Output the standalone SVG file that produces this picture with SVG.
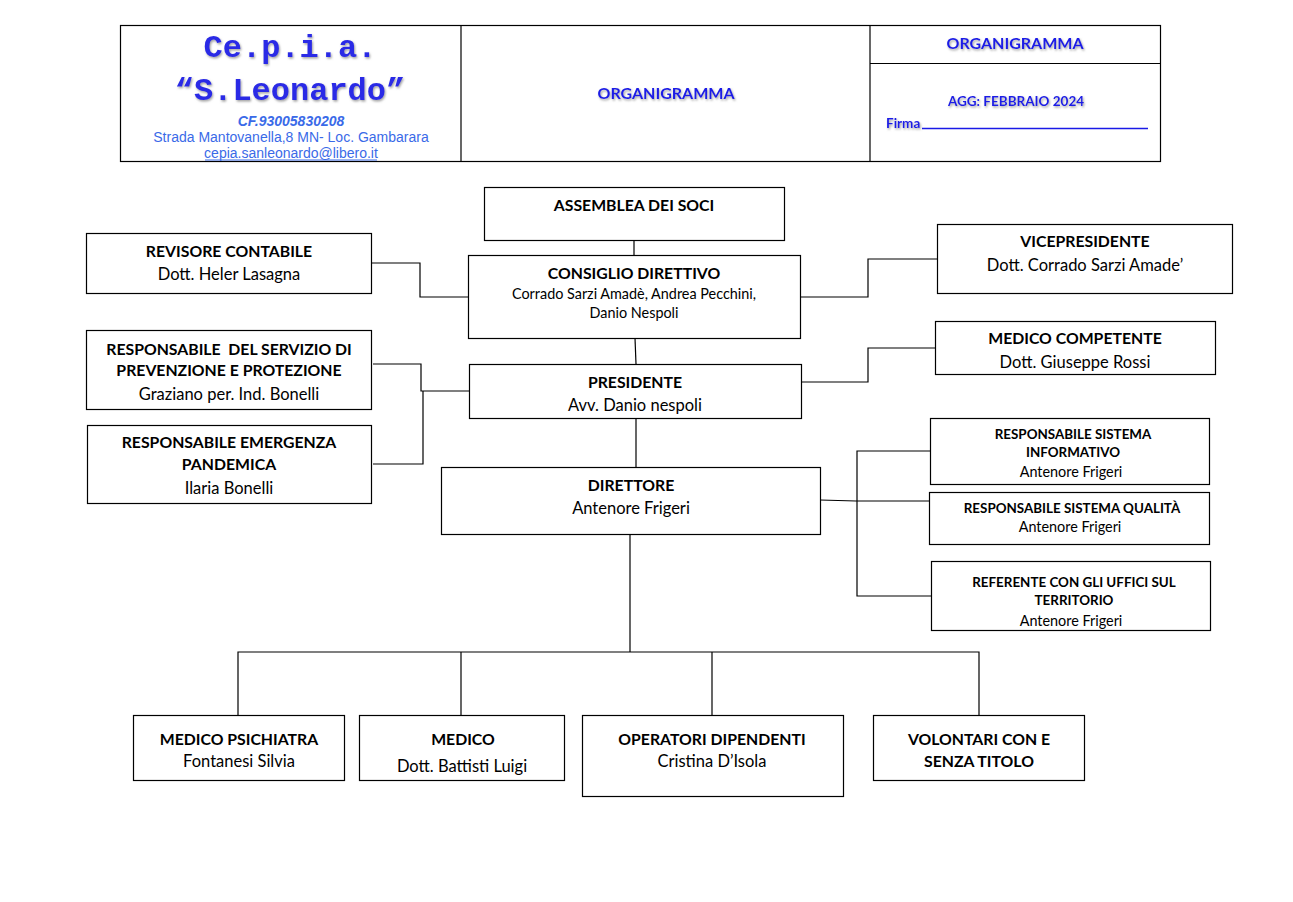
<svg xmlns="http://www.w3.org/2000/svg" width="1293" height="902" viewBox="0 0 1293 902">
<defs>
<filter id="sh" x="-5%" y="-20%" width="110%" height="140%"><feDropShadow dx="1" dy="1.5" stdDeviation="0.8" flood-color="#777" flood-opacity="0.7"/></filter>
</defs>
<style>
rect.n{fill:#fff;stroke:#000;stroke-width:1.2}
.t{font-family:Lato,"Open Sans",sans-serif;font-size:15.8px;font-weight:bold;fill:#000;text-anchor:middle}
.s{font-family:Lato,"Open Sans",sans-serif;font-size:16.5px;fill:#000;text-anchor:middle}
.ts{font-family:Lato,"Open Sans",sans-serif;font-size:13.4px;font-weight:bold;fill:#000;text-anchor:middle}
.ss{font-family:Lato,"Open Sans",sans-serif;font-size:14.4px;fill:#000;text-anchor:middle}
.c line,.c polyline{stroke:#000;stroke-width:1.2;fill:none}
.hb{font-family:Lato,"Open Sans",sans-serif;font-weight:bold;fill:#1a1ae6;text-anchor:middle;filter:url(#sh)}
.big{font-family:"Liberation Mono","Courier New",monospace;font-weight:bold;font-size:32px;fill:#2a2ae6;text-anchor:middle;filter:url(#sh)}
.lb{font-family:"Liberation Sans",Arial,sans-serif;font-size:14px;fill:#3a6ae8;text-anchor:middle}
</style>
<rect width="1293" height="902" fill="#fff"/>
<g id="header">
<rect x="120.5" y="25.5" width="1040" height="136" fill="none" stroke="#000" stroke-width="1.2"/>
<line x1="461" y1="25" x2="461" y2="162" stroke="#000" stroke-width="1.2"/>
<line x1="870" y1="25" x2="870" y2="162" stroke="#000" stroke-width="1.2"/>
<line x1="870" y1="63.5" x2="1160" y2="63.5" stroke="#000" stroke-width="1.2"/>
<text class="big" x="290" y="57">Ce.p.i.a.</text>
<text class="big" x="290" y="100">“S.Leonardo”</text>
<text class="lb" x="291" y="126" font-weight="bold" font-style="italic">CF.93005830208</text>
<text class="lb" x="291" y="142">Strada Mantovanella,8 MN- Loc. Gambarara</text>
<text class="lb" x="291" y="158">cepia.sanleonardo@libero.it</text>
<line x1="205" y1="160" x2="377" y2="160" stroke="#3a6ae8" stroke-width="1.2"/>
<text class="hb" x="666" y="99" font-size="16">ORGANIGRAMMA</text>
<text class="hb" x="1015" y="49" font-size="16">ORGANIGRAMMA</text>
<text class="hb" x="1016" y="106" font-size="13.5">AGG: FEBBRAIO 2024</text>
<text class="hb" x="886" y="128" font-size="13.5" style="text-anchor:start">Firma</text>
<line x1="922" y1="128.5" x2="1148" y2="128.5" stroke="#1a1ae6" stroke-width="1.5"/>
</g>
<g class="c" id="connectors">
<line x1="634" y1="240" x2="634" y2="255"/>
<line x1="635" y1="338" x2="636" y2="364"/>
<line x1="636" y1="418" x2="636" y2="467"/>
<polyline points="371,263 420,263 420,297 468,297"/>
<polyline points="800,297 868,297 868,259 937,259"/>
<polyline points="373,364 421,364 421,391 473,391"/>
<polyline points="373,464 423,464 423,391"/>
<polyline points="801,382 868,382 868,348 935,348"/>
<polyline points="820,500 856,501 929,501"/>
<polyline points="930,451 857,451 857,596 931,596"/>
<line x1="630" y1="534" x2="630" y2="652"/>
<polyline points="238,715 238,652 979,652 979,715"/>
<line x1="461" y1="652" x2="461" y2="715"/>
<line x1="712" y1="652" x2="712" y2="715"/>
</g>
<g id="assemblea"><rect class="n" x="484.5" y="187.5" width="300" height="53"/><text class="t" x="634" y="211">ASSEMBLEA DEI SOCI</text></g>
<g id="consiglio"><rect class="n" x="468.5" y="255.5" width="332" height="83"/><text class="t" x="634" y="279">CONSIGLIO DIRETTIVO</text><text class="ss" x="634" y="299">Corrado Sarzi Amadè, Andrea Pecchini,</text><text class="ss" x="634" y="318">Danio Nespoli</text></g>
<g id="presidente"><rect class="n" x="469.5" y="364.5" width="332" height="54"/><text class="t" x="635" y="388">PRESIDENTE</text><text class="s" x="635" y="411">Avv. Danio nespoli</text></g>
<g id="direttore"><rect class="n" x="441.5" y="467.5" width="379" height="67"/><text class="t" x="631" y="491">DIRETTORE</text><text class="s" x="631" y="514">Antenore Frigeri</text></g>
<g id="revisore"><rect class="n" x="86.5" y="233.5" width="285" height="60"/><text class="t" x="229" y="257">REVISORE CONTABILE</text><text class="s" x="229" y="280">Dott. Heler Lasagna</text></g>
<g id="rspp"><rect class="n" x="86.5" y="330.5" width="285" height="79"/><text class="t" x="229" y="355" style="white-space:pre">RESPONSABILE  DEL SERVIZIO DI</text><text class="t" x="229" y="376">PREVENZIONE E PROTEZIONE</text><text class="s" x="229" y="400">Graziano per. Ind. Bonelli</text></g>
<g id="emergenza"><rect class="n" x="87.5" y="425.5" width="284" height="78"/><text class="t" x="229" y="448">RESPONSABILE EMERGENZA</text><text class="t" x="229" y="470">PANDEMICA</text><text class="s" x="229" y="494">Ilaria Bonelli</text></g>
<g id="vicepresidente"><rect class="n" x="937.5" y="224.5" width="295" height="69"/><text class="t" x="1085" y="247">VICEPRESIDENTE</text><text class="s" x="1085" y="271">Dott. Corrado Sarzi Amade’</text></g>
<g id="medicocompetente"><rect class="n" x="935.5" y="321.5" width="280" height="53"/><text class="t" x="1075" y="344">MEDICO COMPETENTE</text><text class="s" x="1075" y="368">Dott. Giuseppe Rossi</text></g>
<g id="informativo"><rect class="n" x="930.5" y="418.5" width="279" height="66"/><text class="ts" x="1073" y="439">RESPONSABILE SISTEMA</text><text class="ts" x="1073" y="457">INFORMATIVO</text><text class="ss" x="1071" y="477">Antenore Frigeri</text></g>
<g id="qualita"><rect class="n" x="929.5" y="492.5" width="280" height="52"/><text class="ts" x="1072" y="513">RESPONSABILE SISTEMA QUALITÀ</text><text class="ss" x="1070" y="532">Antenore Frigeri</text></g>
<g id="referente"><rect class="n" x="931.5" y="561.5" width="279" height="69"/><text class="ts" x="1074" y="587">REFERENTE CON GLI UFFICI SUL</text><text class="ts" x="1074" y="605">TERRITORIO</text><text class="ss" x="1071" y="626">Antenore Frigeri</text></g>
<g id="psichiatra"><rect class="n" x="133.5" y="715.5" width="211" height="65"/><text class="t" x="239" y="745">MEDICO PSICHIATRA</text><text class="s" x="239" y="767">Fontanesi Silvia</text></g>
<g id="medico"><rect class="n" x="359.5" y="715.5" width="205" height="65"/><text class="t" x="463" y="745">MEDICO</text><text class="s" x="462" y="772">Dott. Battisti Luigi</text></g>
<g id="operatori"><rect class="n" x="582.5" y="715.5" width="261" height="81"/><text class="t" x="712" y="745">OPERATORI DIPENDENTI</text><text class="s" x="712" y="767">Cristina D’Isola</text></g>
<g id="volontari"><rect class="n" x="873.5" y="715.5" width="211" height="65"/><text class="t" x="979" y="745">VOLONTARI CON E</text><text class="t" x="979" y="767">SENZA TITOLO</text></g>
</svg>
